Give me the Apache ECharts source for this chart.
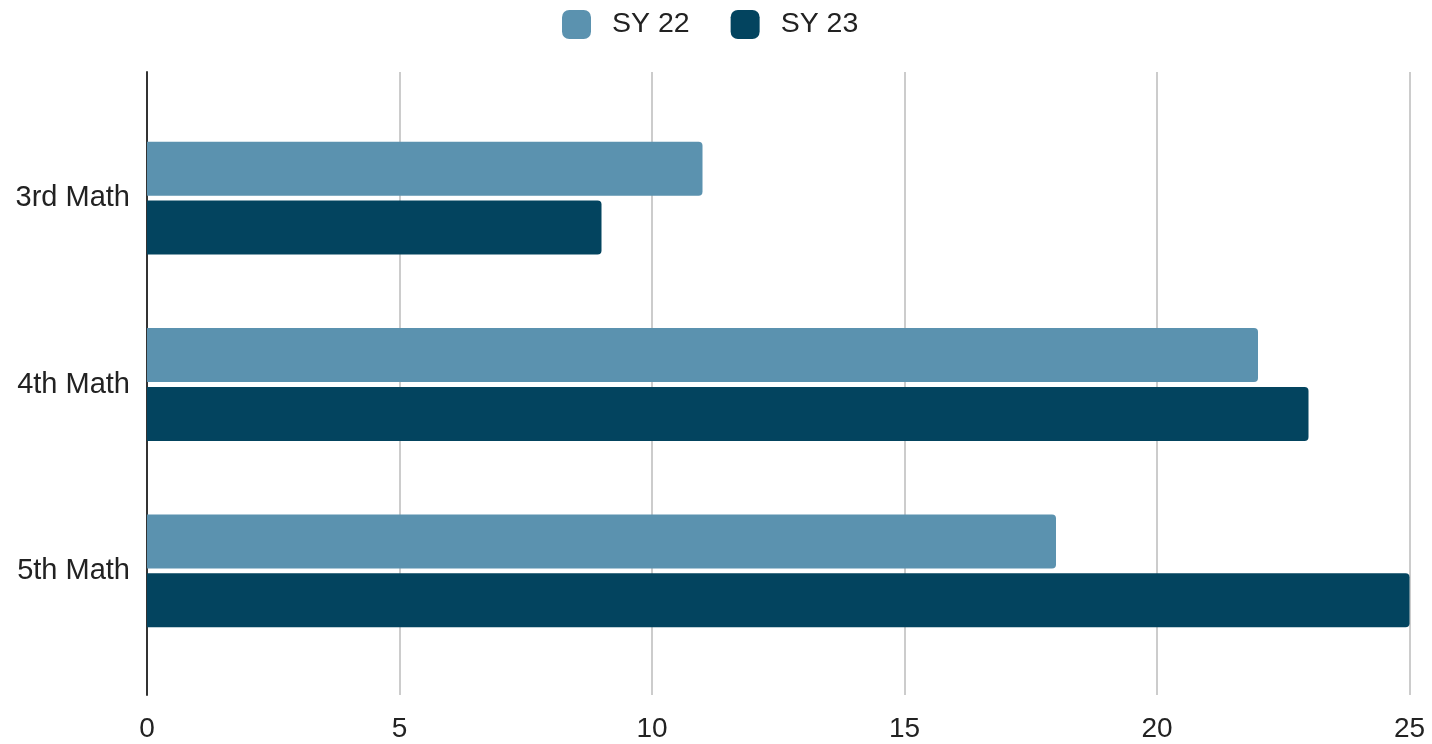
<!DOCTYPE html>
<html>
<head>
<meta charset="utf-8">
<script src="https://cdn.jsdelivr.net/npm/echarts@6/dist/echarts.min.js"></script>
<style>html,body{margin:0;padding:0;background:#fff;}#c{width:1432px;height:744px;}</style>
</head>
<body>
<div id="c"></div>
<script>
const categories = ['3rd Math', '4th Math', '5th Math'];
const seriesNames = ['SY 22', 'SY 23'];
const sy22 = [11, 22, 18];
const sy23 = [9, 23, 25];
const xTicks = [0, 5, 10, 15, 20, 25];

const FONT = 'Liberation Sans';
const chart = echarts.init(document.getElementById('c'));
chart.setOption({
  animation: false,
  backgroundColor: '#fff',
  legend: {
    top: 5, left: 557,
    itemWidth: 29, itemHeight: 29, itemGap: 41,
    icon: 'roundRect',
    data: seriesNames,
    textStyle: { fontFamily: FONT, fontSize: 28.5, color: '#222', padding: [5, 0, 0, 16] }
  },
  grid: [
    { left: 147, right: 22.5, top: 72, bottom: 49, containLabel: false },
    { left: 147, right: 22.5, top: 105, bottom: 80, containLabel: false }
  ],
  xAxis: [
    { gridIndex: 0, type: 'value', min: xTicks[0], max: xTicks[xTicks.length - 1], interval: 5,
      axisLine: { show: false }, axisTick: { show: false },
      splitLine: { show: true, lineStyle: { color: '#cccccc', width: 2 } },
      axisLabel: { fontFamily: FONT, fontSize: 28, color: '#222', margin: 20 } },
    { gridIndex: 1, type: 'value', min: xTicks[0], max: xTicks[xTicks.length - 1], show: false }
  ],
  yAxis: [
    { gridIndex: 0, type: 'value', min: 0, max: 1,
      axisLine: { show: true, lineStyle: { color: '#333', width: 2 } },
      axisTick: { show: false }, axisLabel: { show: false }, splitLine: { show: false } },
    { gridIndex: 1, type: 'category', inverse: true, data: categories,
      axisLine: { show: false }, axisTick: { show: false }, splitLine: { show: false },
      axisLabel: { fontFamily: FONT, fontSize: 29, color: '#222', margin: 17, padding: [4, 0, 0, 0] } }
  ],
  series: [
    { name: seriesNames[0], type: 'bar', xAxisIndex: 1, yAxisIndex: 1, data: sy22,
      barWidth: 54, barGap: '9%',
      itemStyle: { color: '#5b92af', borderRadius: [0, 4, 4, 0] } },
    { name: seriesNames[1], type: 'bar', xAxisIndex: 1, yAxisIndex: 1, data: sy23,
      barWidth: 54, barGap: '9%',
      itemStyle: { color: '#03445f', borderRadius: [0, 4, 4, 0] } }
  ]
});
</script>
</body>
</html>
